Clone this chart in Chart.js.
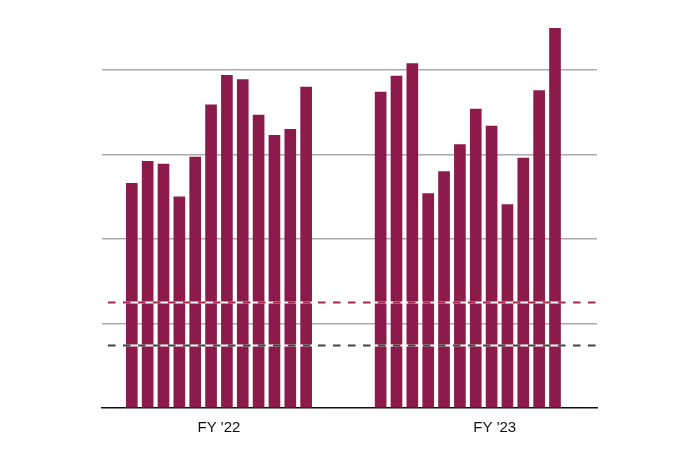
<!DOCTYPE html>
<html>
<head>
<meta charset="utf-8">
<script src="https://cdn.jsdelivr.net/npm/chart.js@4.4.0/dist/chart.umd.min.js"></script>
<style>
    html, body { margin: 0; padding: 0; background: #fff; }
    #wrap { width: 700px; height: 467px; }
</style>
</head>
<body>
<div id="wrap"><canvas id="chart"></canvas></div>
<script>
"use strict";

var years = ["FY '22", "FY '23"];
var fy22 = [2.66, 2.92, 2.89, 2.50, 2.97, 3.59, 3.94, 3.89, 3.47, 3.23, 3.30, 3.80];
var fy23 = [3.74, 3.93, 4.08, 2.54, 2.80, 3.12, 3.54, 3.34, 2.41, 2.96, 3.76, 4.50];
var refLines = [1.25, 0.75];
var refColors = ["#a3284f", "#444444"];

var barColor = "#8c1a4a";
var gap = 3.7;          // empty slots between the two years
var labelAt = [5.5, 22.9];

var toPoints = function(values, start) {
    return values.map(function(v, i) {
        return {x: start + i, y: v};
    });
};

var points = toPoints(fy22, 0).concat(toPoints(fy23, fy22.length + gap));

var refLinePlugin = {
    id: "refLines",
    afterDatasetsDraw: function(chart) {
        var ctx = chart.ctx;
        var area = chart.chartArea;
        var y = chart.scales.y;
        refLines.forEach(function(v, i) {
            var py = Math.round(y.getPixelForValue(v)) + 0.5;
            ctx.save();
            ctx.lineWidth = 2;
            ctx.strokeStyle = "#ffffff";
            ctx.beginPath();
            ctx.moveTo(area.left + 6, py);
            ctx.lineTo(area.right, py);
            ctx.stroke();
            ctx.setLineDash([7.5, 7.5]);
            ctx.strokeStyle = refColors[i];
            ctx.beginPath();
            ctx.moveTo(area.left + 6, py);
            ctx.lineTo(area.right, py);
            ctx.stroke();
            ctx.restore();
        });
    }
};

var ctx = document.getElementById("chart").getContext("2d");
var chart = new Chart(ctx, {
    type: "bar",
    data: {
        datasets: [{
            data: points,
            backgroundColor: barColor,
            borderWidth: 0,
            barThickness: 11
        }]
    },
    options: {
        responsive: true,
        maintainAspectRatio: false,
        animation: false,
        layout: {padding: {left: 102, right: 103, top: 28, bottom: 19}},
        plugins: {legend: {display: false}, tooltip: {enabled: false}},
        scales: {
            x: {
                type: "linear",
                offset: false,
                bounds: "ticks",
                min: -1.88,
                max: 29.35,
                afterBuildTicks: function(axis) {
                    axis.ticks = labelAt.map(function(v) { return {value: v}; });
                },
                ticks: {
                    autoSkip: false,
                    maxRotation: 0,
                    padding: 11,
                    color: "#111111",
                    font: {family: "'Liberation Sans', Arial, sans-serif", size: 15},
                    callback: function(value, index) { return years[index]; }
                },
                grid: {display: false, drawTicks: false},
                border: {display: true, color: "#111111", width: 1.5}
            },
            y: {
                min: 0,
                max: 4.5,
                afterBuildTicks: function(axis) {
                    axis.ticks = [0, 1, 2, 3, 4].map(function(v) { return {value: v}; });
                },
                ticks: {display: false},
                grid: {
                    color: function(c) { return c.tick.value === 0 ? "transparent" : "#ababab"; },
                    lineWidth: 1.5,
                    drawTicks: false
                },
                border: {display: false}
            }
        }
    },
    plugins: [refLinePlugin]
});
</script>
</body>
</html>
